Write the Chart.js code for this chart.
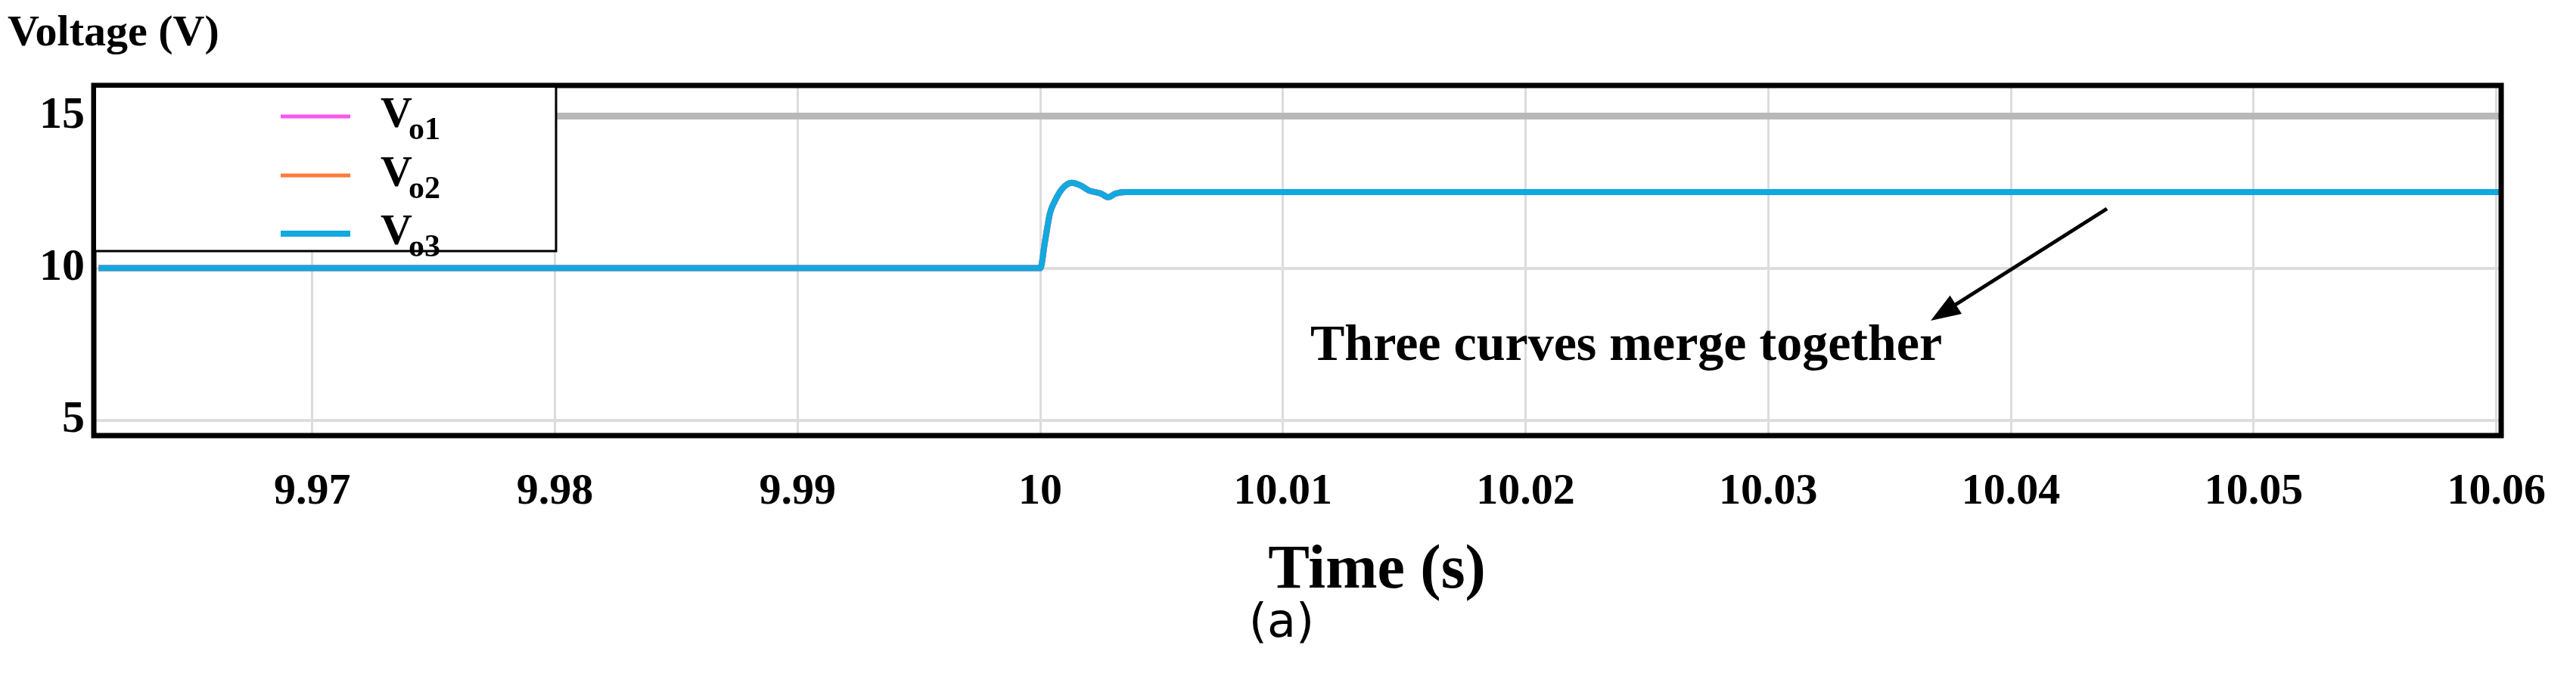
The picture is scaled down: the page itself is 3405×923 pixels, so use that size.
<!DOCTYPE html>
<html><head><meta charset="utf-8">
<script src="https://cdn.jsdelivr.net/npm/chart.js@4/dist/chart.umd.min.js"></script>
<style>html,body{margin:0;padding:0;background:#fff}#w{width:3405px;height:923px}</style>
</head><body><div id="w"><canvas id="c"></canvas></div>
<script>
const timeS = [9.9612, 10.0, 10.0002, 10.0004, 10.0006, 10.0009, 10.0013, 10.0017, 10.002, 10.0025, 10.0028, 10.0031, 10.0035, 10.0602];
const vo1 = [10, 10, 10.9, 11.8, 12.2, 12.6, 12.8, 12.7, 12.55, 12.45, 12.33, 12.45, 12.5, 12.5];
const vo2 = [10, 10, 10.9, 11.8, 12.2, 12.6, 12.8, 12.7, 12.55, 12.45, 12.33, 12.45, 12.5, 12.5];
const vo3 = [10, 10, 10.9, 11.8, 12.2, 12.6, 12.8, 12.7, 12.55, 12.45, 12.33, 12.45, 12.5, 12.5];
const xTicks = [9.97, 9.98, 9.99, 10, 10.01, 10.02, 10.03, 10.04, 10.05, 10.06];
const yTicks = [5, 10, 15];
const seriesNames = ['o1', 'o2', 'o3'];
const seriesColors = ['#ff55ee', '#ff7a3a', '#12a8e0'];
const serif = '"Liberation Serif", "DejaVu Serif", serif';
const pts = a => timeS.map((t, i) => ({x: t, y: a[i]}));

const deco = {
  id: 'deco',
  afterDraw(ch) {
    const c = ch.ctx, a = ch.chartArea;
    c.save();
    c.strokeStyle = '#000'; c.lineWidth = 7;
    c.strokeRect(a.left, a.top, a.right - a.left, a.bottom - a.top);
    c.lineWidth = 3;
    c.fillStyle = '#fff';
    c.fillRect(a.left + 3, a.top + 3, 735 - a.left - 3, 332 - a.top - 3);
    c.strokeRect(a.left, a.top, 735 - a.left, 332 - a.top);
    const ys = [154, 232, 309];
    for (let i = 0; i < 3; i++) {
      c.strokeStyle = seriesColors[i]; c.lineWidth = i === 2 ? 8 : 5;
      c.beginPath(); c.moveTo(371, ys[i]); c.lineTo(463, ys[i]); c.stroke();
      c.fillStyle = '#000'; c.textBaseline = 'alphabetic'; c.textAlign = 'left';
      c.font = 'bold 58px ' + serif; c.fillText('V', 503, ys[i] + 14);
      c.font = 'bold 42px ' + serif; c.fillText(seriesNames[i], 540, ys[i] + 30);
    }
    c.fillStyle = '#000'; c.textAlign = 'left'; c.textBaseline = 'middle';
    c.font = 'bold 58px ' + serif; c.fillText('Voltage (V)', 10, 45);
    c.textAlign = 'center';
    c.font = 'bold 82px ' + serif; c.fillText('Time (s)', 1820, 756);
    c.font = '62px "DejaVu Sans", sans-serif'; c.fillText('(a)', 1694, 826);
    c.textAlign = 'left';
    c.font = 'bold 68px ' + serif; c.fillText('Three curves merge together', 1732, 458);
    const x1 = 2785, y1 = 276, x2 = 2552, y2 = 424;
    c.strokeStyle = '#000'; c.lineWidth = 5;
    c.beginPath(); c.moveTo(x1, y1); c.lineTo(x2 + 20, y2 - 13); c.stroke();
    const ang = Math.atan2(y2 - y1, x2 - x1);
    c.beginPath(); c.moveTo(x2, y2);
    c.lineTo(x2 - 42 * Math.cos(ang - 0.35), y2 - 42 * Math.sin(ang - 0.35));
    c.lineTo(x2 - 42 * Math.cos(ang + 0.35), y2 - 42 * Math.sin(ang + 0.35));
    c.closePath(); c.fillStyle = '#000'; c.fill();
    c.restore();
  }
};

const ds = (label, arr, i) => ({label, data: pts(arr), borderColor: seriesColors[i], borderWidth: 8,
  pointRadius: 0, cubicInterpolationMode: 'monotone', order: 3 - i});

new Chart(document.getElementById('c'), {
  type: 'line',
  data: {datasets: [ds('Vo1', vo1, 0), ds('Vo2', vo2, 1), ds('Vo3', vo3, 2)]},
  options: {
    responsive: true, maintainAspectRatio: false, animation: false, devicePixelRatio: 1,
    layout: {padding: {left: 0, top: 113, right: 38, bottom: 0}},
    plugins: {legend: {display: false}, tooltip: {enabled: false}},
    scales: {
      x: {
        type: 'linear', min: 9.961, max: 10.0602,
        afterBuildTicks: s => { s.ticks = xTicks.map(v => ({value: v})); },
        afterFit: s => { s.height = 347; },
        border: {display: false},
        grid: {color: '#dcdcdc', lineWidth: 3, drawTicks: false},
        ticks: {padding: 40, color: '#000', font: {family: serif, weight: 'bold', size: 58},
          callback: v => String(Number(v.toFixed(2)))}
      },
      y: {
        min: 4.5, max: 16,
        afterBuildTicks: s => { s.ticks = yTicks.map(v => ({value: v})); },
        afterFit: s => { s.width = 124; },
        border: {display: false},
        grid: {color: c => c.tick && c.tick.value === 15 ? '#b8b8b8' : '#dddddd',
               lineWidth: c => c.tick && c.tick.value === 15 ? 9 : 4, drawTicks: false},
        ticks: {padding: 12, color: '#000', font: {family: serif, weight: 'bold', size: 60}}
      }
    }
  },
  plugins: [deco]
});
</script></body></html>
